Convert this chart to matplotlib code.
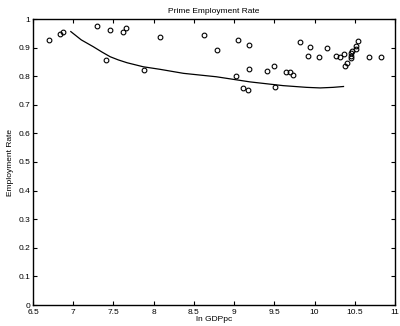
import numpy as np
import matplotlib.pyplot as plt

plt.rcParams['font.family'] = ['Liberation Sans', 'DejaVu Sans']
plt.rcParams['font.size'] = 6

# observed points: log GDP per capita vs prime-age employment rate
ln_gdppc = [6.70, 6.84, 6.87, 7.30, 7.41, 7.46, 7.62, 7.65, 7.88, 8.08,
            8.63, 8.79, 9.05, 9.19, 9.02, 9.11, 9.17, 9.18, 9.41, 9.49,
            9.51, 9.65, 9.70, 9.73, 9.82, 9.92, 9.94, 10.06, 10.16, 10.27,
            10.32, 10.37, 10.38, 10.40, 10.45, 10.45, 10.45, 10.47, 10.51,
            10.52, 10.54, 10.68, 10.83]
emp_rate = [0.927, 0.947, 0.954, 0.977, 0.858, 0.960, 0.955, 0.970, 0.822, 0.938,
            0.944, 0.891, 0.926, 0.910, 0.802, 0.759, 0.752, 0.825, 0.819, 0.836,
            0.762, 0.816, 0.816, 0.805, 0.921, 0.870, 0.901, 0.866, 0.898, 0.872,
            0.868, 0.879, 0.837, 0.847, 0.880, 0.871, 0.864, 0.887, 0.894,
            0.906, 0.924, 0.868, 0.867]

# fitted curve
fit_x = [6.97, 7.10, 7.25, 7.36, 7.46, 7.56, 7.67, 7.87, 8.08, 8.37, 8.78, 9.20,
         9.61, 9.90, 10.07, 10.23, 10.36]
fit_y = [0.956, 0.927, 0.903, 0.884, 0.868, 0.857, 0.847, 0.833, 0.824, 0.810,
         0.798, 0.780, 0.767, 0.761, 0.759, 0.761, 0.764]

fig = plt.figure(figsize=(4.0, 3.26), dpi=100)
ax = fig.add_axes([33 / 400, 21 / 326, 362 / 400, 286 / 326])

ax.plot(ln_gdppc, emp_rate, 'o', mfc='none', mec='black', ms=3.4, mew=0.8)
ax.plot(fit_x, fit_y, '-', color='black', lw=0.9)

ax.set_xlim(6.5, 11)
ax.set_ylim(0, 1)
ax.set_xticks(np.arange(6.5, 11.01, 0.5))
ax.set_xticklabels(['6.5', '7', '7.5', '8', '8.5', '9', '9.5', '10', '10.5', '11'])
ax.set_yticks(np.arange(0, 1.01, 0.1))
ax.set_yticklabels(['0', '0.1', '0.2', '0.3', '0.4', '0.5', '0.6', '0.7', '0.8', '0.9', '1'])
ax.tick_params(direction='in', length=3, width=0.8, top=True, right=True, pad=2)
ax.tick_params(axis='x', pad=3)
for s in ax.spines.values():
    s.set_linewidth(1.0)

ax.set_title('Prime Employment Rate', fontsize=6, pad=4)
ax.set_xlabel('ln GDPpc', fontsize=6, labelpad=0)
ax.set_ylabel('Employment Rate', fontsize=6, labelpad=3)

fig.savefig('out.png', dpi=100)
